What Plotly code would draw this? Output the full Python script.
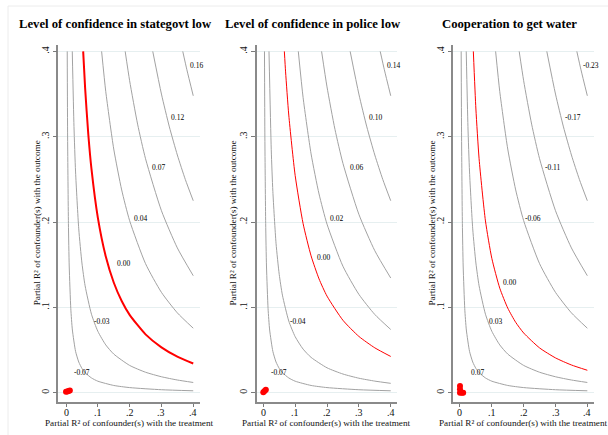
import plotly.graph_objects as go

TITLES = ["Level of confidence in stategovt low",
          "Level of confidence in police low",
          "Cooperation to get water"]
TICK_VALS = [0, 0.1, 0.2, 0.3, 0.4]
TICK_TEXT = ["0", ".1", ".2", ".3", ".4"]
X_TITLE = "Partial R² of confounder(s) with the treatment"
Y_TITLE = "Partial R² of confounder(s) with the outcome"

# contour curves (x = partial R2 with treatment, y = with outcome)
A_X = [0.00374, 0.005, 0.0075, 0.01, 0.015, 0.02, 0.03, 0.04, 0.05, 0.06, 0.08, 0.1, 0.15, 0.2, 0.3, 0.4]
A_Y = [0.4, 0.2985, 0.1985, 0.1485, 0.0985, 0.0735, 0.0485, 0.036, 0.0285, 0.0235, 0.0173, 0.0135, 0.0085, 0.006, 0.0035, 0.00225]
B_X = [0.0196, 0.025, 0.03, 0.04, 0.05, 0.06, 0.08, 0.1, 0.125, 0.15, 0.2, 0.25, 0.3, 0.35, 0.4]
B_Y = [0.4, 0.312, 0.2587, 0.192, 0.152, 0.1253, 0.092, 0.072, 0.056, 0.0453, 0.032, 0.024, 0.0187, 0.0149, 0.012]
B2_X = [0.0179, 0.025, 0.03, 0.04, 0.05, 0.06, 0.08, 0.1, 0.125, 0.15, 0.2, 0.25, 0.3, 0.35, 0.4]
B2_Y = [0.4, 0.2847, 0.236, 0.1752, 0.1387, 0.1144, 0.084, 0.0657, 0.0511, 0.0414, 0.0292, 0.0219, 0.017, 0.0136, 0.011]
D_X = [0.1119, 0.125, 0.15, 0.175, 0.2, 0.25, 0.3, 0.35, 0.4]
D_Y = [0.4, 0.3528, 0.2856, 0.2376, 0.2016, 0.1512, 0.1176, 0.0936, 0.0756]
D2_X = [0.1099, 0.125, 0.15, 0.175, 0.2, 0.25, 0.3, 0.35, 0.4]
D2_Y = [0.4, 0.3458, 0.2799, 0.2329, 0.1976, 0.1482, 0.1153, 0.0917, 0.0741]
E_X = [0.186, 0.2, 0.225, 0.25, 0.3, 0.35, 0.4]
E_Y = [0.4, 0.3656, 0.3148, 0.2742, 0.2133, 0.1697, 0.1371]
E2_X = [0.183, 0.2, 0.225, 0.25, 0.3, 0.35, 0.4]
E2_Y = [0.4, 0.3584, 0.3086, 0.2688, 0.2091, 0.1664, 0.1344]
F_X = [0.2727, 0.3, 0.325, 0.35, 0.375, 0.4]
F_Y = [0.4, 0.35, 0.3115, 0.2786, 0.25, 0.225]
G_X = [0.367, 0.38, 0.4]
G_Y = [0.4, 0.3785, 0.348]

# red (zero) contours
RED1_X = [0.0539, 0.06, 0.07, 0.08, 0.1, 0.125, 0.15, 0.175, 0.2, 0.25, 0.3, 0.35, 0.4]
RED1_Y = [0.4, 0.3572, 0.3029, 0.2622, 0.2052, 0.1596, 0.1292, 0.1075, 0.0912, 0.0684, 0.0532, 0.0423, 0.0342]
RED2_X = [0.0661, 0.07, 0.08, 0.1, 0.125, 0.15, 0.175, 0.2, 0.25, 0.3, 0.35, 0.4]
RED2_Y = [0.4, 0.376, 0.3254, 0.2547, 0.1981, 0.1604, 0.1334, 0.1132, 0.0849, 0.066, 0.0526, 0.0425]
RED3_X = [0.0419, 0.05, 0.06, 0.08, 0.1, 0.125, 0.15, 0.175, 0.2, 0.25, 0.3, 0.35, 0.4]
RED3_Y = [0.4, 0.3325, 0.2742, 0.2013, 0.1575, 0.1225, 0.0992, 0.0825, 0.07, 0.0525, 0.0408, 0.0325, 0.0263]

# unadjusted / benchmark points near origin
PT1_X = [0.0, 0.004, 0.008, 0.012]
PT1_Y = [0.001, 0.0015, 0.002, 0.0025]
PT2_X = [0.0, 0.004, 0.008]
PT2_Y = [0.0005, 0.002, 0.0035]
PT3_X = [0.0, 0.0, 0.0, 0.006, 0.01]
PT3_Y = [0.0, 0.004, 0.008, 0.0, 0.0]

# contour labels
LAB1 = ["0.16", "0.12", "0.07", "0.04", "0.00", "-0.03", "-0.07"]
LAB1_X = [0.411, 0.351, 0.292, 0.233, 0.180, 0.112, 0.049]
LAB1_Y = [0.383, 0.323, 0.264, 0.2036, 0.152, 0.083, 0.024]
LAB2 = ["0.14", "0.10", "0.06", "0.02", "0.00", "-0.04", "-0.07"]
LAB2_X = [0.410, 0.351, 0.291, 0.230, 0.188, 0.110, 0.050]
LAB2_Y = [0.383, 0.323, 0.264, 0.2036, 0.159, 0.083, 0.024]
LAB3 = ["-0.23", "-0.17", "-0.11", "-0.06", "0.00", "0.03", "0.07"]
LAB3_X = [0.411, 0.354, 0.291, 0.230, 0.157, 0.112, 0.054]
LAB3_Y = [0.383, 0.323, 0.264, 0.2036, 0.129, 0.083, 0.024]

panels = [
    dict(grey=[(A_X, A_Y), (B_X, B_Y), (D_X, D_Y), (E_X, E_Y), (F_X, F_Y), (G_X, G_Y)],
         red=(RED1_X, RED1_Y), redw=2.0, pts=(PT1_X, PT1_Y),
         lab=(LAB1, LAB1_X, LAB1_Y), xrange=[-0.024, 0.42],
         dom=[58.4, 199.6], title_x=115, ytitle_x=37.3),
    dict(grey=[(A_X, A_Y), (B2_X, B2_Y), (D2_X, D2_Y), (E2_X, E2_Y), (F_X, F_Y), (G_X, G_Y)],
         red=(RED2_X, RED2_Y), redw=1.0, pts=(PT2_X, PT2_Y),
         lab=(LAB2, LAB2_X, LAB2_Y), xrange=[-0.021, 0.42],
         dom=[256.6, 397.1], title_x=312.5, ytitle_x=232.5),
    dict(grey=[(A_X, A_Y), (B_X, B_Y), (D_X, D_Y), (E_X, E_Y), (F_X, F_Y), (G_X, G_Y)],
         red=(RED3_X, RED3_Y), redw=1.0, pts=(PT3_X, PT3_Y),
         lab=(LAB3, LAB3_X, LAB3_Y), xrange=[-0.021, 0.42],
         dom=[453.3, 593.7], title_x=509, ytitle_x=431.5),
]

W, H = 608, 435
FONT = "Liberation Serif, Times New Roman, serif"
GREY = "#a2a2a2"
RED = "#ff0000"

fig = go.Figure()
annotations = []
ydom = [(H - 402.1) / H, (H - 45.0) / H]

for i, p in enumerate(panels):
    sfx = "" if i == 0 else str(i + 1)
    xa, ya = "x" + sfx, "y" + sfx
    for gx, gy in p["grey"]:
        fig.add_trace(go.Scatter(x=gx, y=gy, mode="lines", xaxis=xa, yaxis=ya,
                                 line=dict(color=GREY, width=1, shape="spline", smoothing=0.6),
                                 showlegend=False, hoverinfo="skip"))
    rx, ry = p["red"]
    fig.add_trace(go.Scatter(x=rx, y=ry, mode="lines", xaxis=xa, yaxis=ya,
                             line=dict(color=RED, width=p["redw"], shape="spline", smoothing=0.6),
                             showlegend=False, hoverinfo="skip"))
    px_, py_ = p["pts"]
    fig.add_trace(go.Scatter(x=px_, y=py_, mode="markers", xaxis=xa, yaxis=ya,
                             marker=dict(color=RED, size=6, line=dict(width=0)),
                             showlegend=False, hoverinfo="skip", cliponaxis=False))
    txt, lx, ly = p["lab"]
    for t, x, y in zip(txt, lx, ly):
        annotations.append(dict(text=t, x=x, y=y, xref=xa, yref=ya, showarrow=False,
                                xanchor="center", yanchor="middle",
                                font=dict(family=FONT, size=7.5, color="#000000")))

    fig.layout["xaxis" + sfx] = dict(
        domain=[p["dom"][0] / W, p["dom"][1] / W], range=p["xrange"], anchor=ya,
        tickvals=TICK_VALS, ticktext=TICK_TEXT, ticks="outside", ticklen=3,
        tickcolor="#7a7a7a", showline=True, linecolor="#8a8a8a", linewidth=1.5,
        showgrid=False, zeroline=False, showticklabels=False)
    fig.layout["yaxis" + sfx] = dict(
        domain=ydom, range=[-0.011, 0.4075], anchor=xa,
        tickvals=TICK_VALS, ticktext=TICK_TEXT, ticks="outside", ticklen=4,
        tickcolor="#7a7a7a", showline=True, linecolor="#8a8a8a", linewidth=1.5,
        showgrid=True, gridcolor="#e6eff0", gridwidth=1, zeroline=False,
        tickangle=-90, tickfont=dict(family=FONT, size=10, color="#111111"))

    # x tick labels, placed tight under the axis as in the reference
    for tv, tt in zip(TICK_VALS, TICK_TEXT):
        annotations.append(dict(text=tt, x=tv, y=(H - 412.2) / H, xref=xa, yref="paper",
                                xanchor="center", yanchor="middle", showarrow=False,
                                font=dict(family=FONT, size=10, color="#111111")))

    annotations.append(dict(text="<b>" + TITLES[i] + "</b>", x=p["title_x"] / W, y=(H - 24) / H,
                            xref="paper", yref="paper", xanchor="center", yanchor="middle",
                            showarrow=False, font=dict(family=FONT, size=12.7, color="#000000")))
    annotations.append(dict(text=X_TITLE, x=(p["dom"][0] + p["dom"][1]) / 2 / W, y=(H - 422.5) / H,
                            xref="paper", yref="paper", xanchor="center", yanchor="middle",
                            showarrow=False, font=dict(family=FONT, size=9.2, color="#111111")))
    annotations.append(dict(text=Y_TITLE, x=p["ytitle_x"] / W, y=(H - 223) / H, textangle=-90,
                            xref="paper", yref="paper", xanchor="center", yanchor="middle",
                            showarrow=False, font=dict(family=FONT, size=9.2, color="#111111")))

fig.update_layout(
    width=W, height=H, margin=dict(l=0, r=0, t=0, b=0),
    paper_bgcolor="white", plot_bgcolor="white",
    annotations=annotations,
    shapes=[dict(type="rect", xref="paper", yref="paper",
                 x0=8 / W, x1=1.02, y0=-0.02, y1=(H - 6) / H,
                 line=dict(color="#ececec", width=1), fillcolor="rgba(0,0,0,0)", layer="below")],
)

fig.write_html("out.html")
